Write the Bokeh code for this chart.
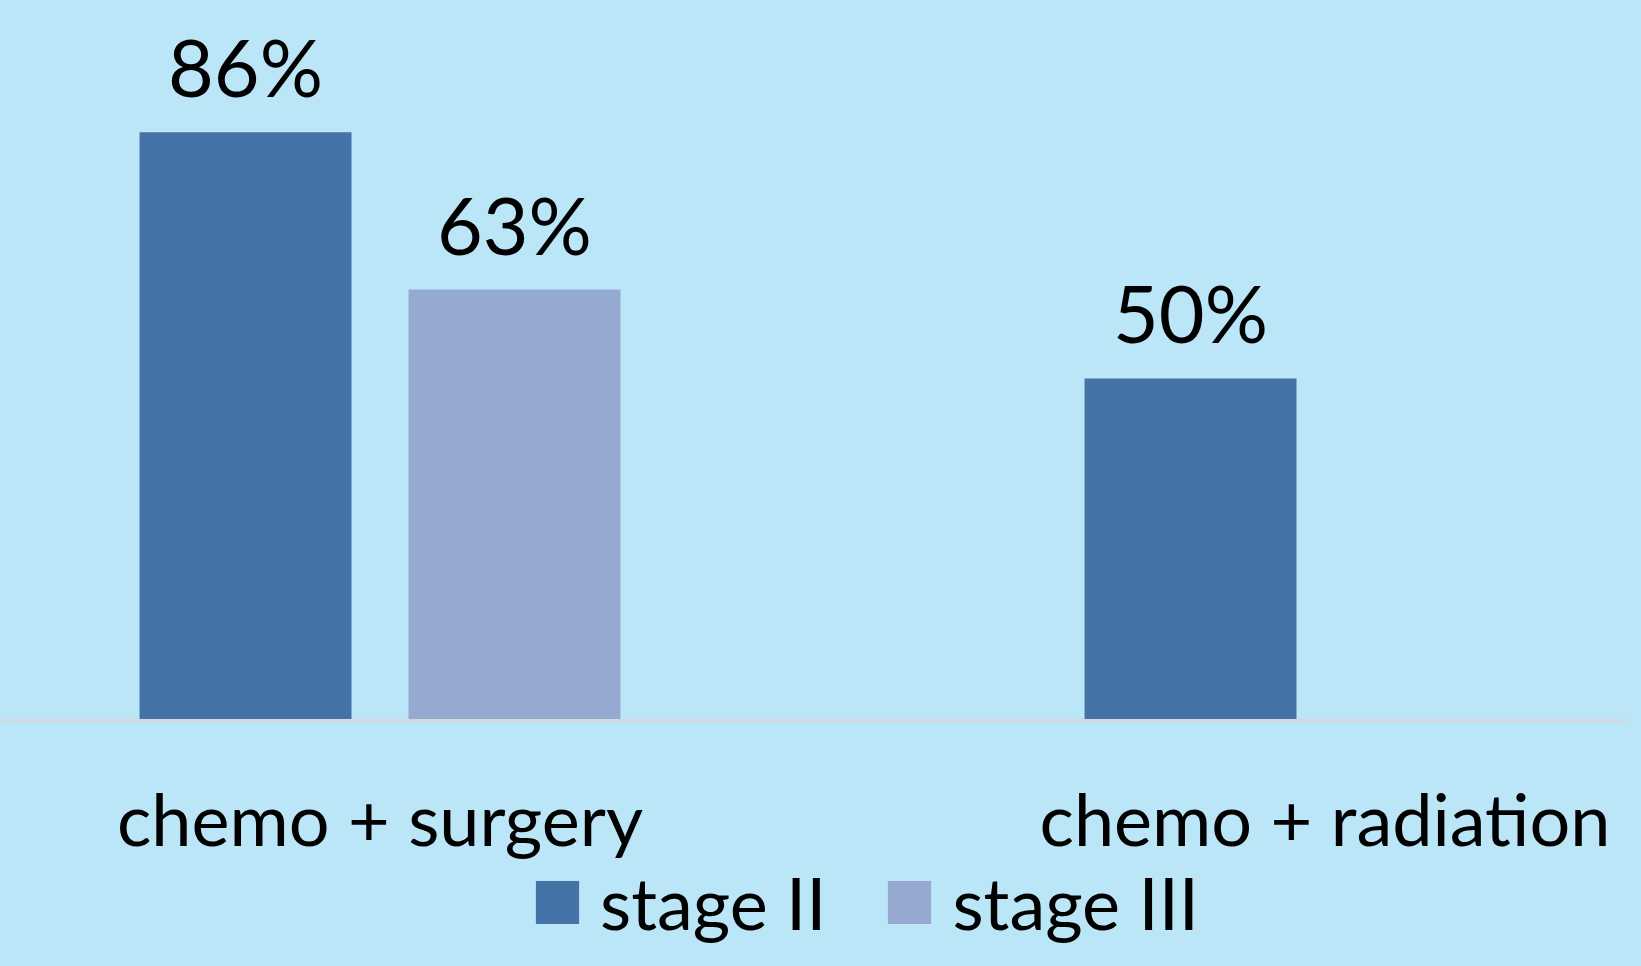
from bokeh.plotting import figure
from bokeh.models import ColumnDataSource, LabelSet, Legend, LegendItem, Range1d, Span
from bokeh.core.properties import value
from bokeh.embed import file_html
from bokeh.resources import INLINE

categories = ["chemo + surgery", "chemo + radiation"]
series_names = ["stage II", "stage III"]
stage_ii = [86, 50]
stage_iii = [63, None]

colors = ["#4673a7", "#96a9d0"]
BG = "#bbe6f7"
FONT = value("Lato")

cat_pos = [i + 0.5 for i in range(len(categories))]
offset = 0.1423
bar_w = 0.2243


def make_src(vals, off):
    xs, tops, labels = [], [], []
    for c, v in zip(cat_pos, vals):
        if v is None:
            continue
        xs.append(c + off)
        tops.append(v)
        labels.append(f"{v}%")
    return ColumnDataSource(dict(x=xs, top=tops, label=labels))


p = figure(width=1625, height=950, output_backend="svg", toolbar_location=None,
           x_axis_location=None, y_axis_location=None, min_border=0,
           x_range=Range1d(0.0984, 1.8180), y_range=Range1d(-33.63, 105.26))
p.outline_line_color = None
p.grid.visible = False
p.background_fill_color = BG
p.border_fill_color = BG

renderers = []
for vals, off, col in zip([stage_ii, stage_iii], [-offset, offset], colors):
    src = make_src(vals, off)
    r = p.vbar(x="x", top="top", bottom=0, width=bar_w, source=src,
               fill_color=col, line_color=None)
    renderers.append(r)
    p.add_layout(LabelSet(x="x", y="top", text="label", source=src,
                          text_align="center", text_baseline="alphabetic",
                          y_offset=35, text_font=FONT, text_font_size="79px",
                          text_color="black"))

p.add_layout(Span(location=0, dimension="width", line_color="#d3d9de", line_width=3))

cat_src = ColumnDataSource(dict(x=cat_pos, y=[0] * len(categories), label=categories))
p.add_layout(LabelSet(x="x", y="y", text="label", source=cat_src,
                      text_align="center", text_baseline="alphabetic",
                      y_offset=-126, text_font=FONT, text_font_size="72px",
                      text_color="black"))

legend = Legend(items=[LegendItem(label=n, renderers=[r]) for n, r in zip(series_names, renderers)],
                orientation="horizontal", location=(530, 5),
                glyph_width=54, glyph_height=54, label_standoff=16, spacing=56,
                padding=0, margin=0, border_line_color=None, background_fill_alpha=0,
                label_text_font="Lato", label_text_font_size="72px", label_text_color="black")
p.add_layout(legend, "center")

html = file_html(p, INLINE)
html = html.replace("<head>", "<head><style>html, body { background: %s; }</style>" % BG, 1)
open("out.html", "w").write(html)
